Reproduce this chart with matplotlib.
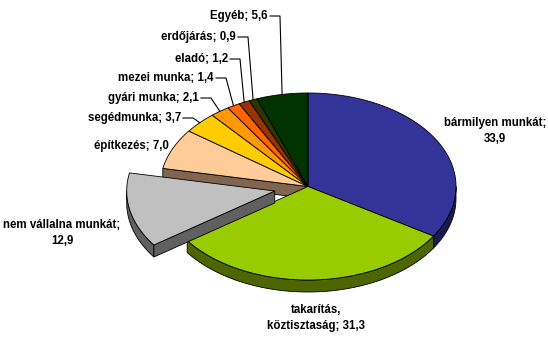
import numpy as np
import matplotlib
matplotlib.use("Agg")
import matplotlib.pyplot as plt
from matplotlib.patches import Polygon

# ---- data ----
labels = ["bármilyen munkát", "takarítás,\nköztisztaság", "nem vállalna munkát",
          "építkezés", "segédmunka", "gyári munka", "mezei munka", "eladó",
          "erdőjárás", "Egyéb"]
values = [33.9, 31.3, 12.9, 7.0, 3.7, 2.1, 1.4, 1.2, 0.9, 5.6]
top_colors = ["#333399", "#99CC00", "#C0C0C0", "#FFCC99", "#FFCC00", "#FF9900",
              "#FF6600", "#993300", "#333300", "#003300"]
side_colors = ["#1A1A4D", "#4D6600", "#606060", "#806650", "#806600", "#804D00",
               "#803300", "#4D1A00", "#1A1A00", "#001A00"]
explode = [0, 0, 0.23, 0, 0, 0, 0, 0, 0, 0]

W, H = 548, 342
fig = plt.figure(figsize=(W / 100, H / 100), dpi=100)
ax = fig.add_axes([0, 0, 1, 1])
ax.set_xlim(0, W)
ax.set_ylim(H, 0)
ax.axis("off")

cx, cy, rx, ry, depth = 308, 186.5, 148, 93.5, 12


def pt(theta_deg, r=1.0, off=(0, 0)):
    t = np.radians(theta_deg)
    return (cx + off[0] + rx * r * np.sin(t), cy + off[1] - ry * r * np.cos(t))


total = sum(values)
starts, ends = [], []
acc = 0.0
for v in values:
    starts.append(acc / total * 360)
    acc += v
    ends.append(acc / total * 360)

offsets = []
for i in range(len(values)):
    mid = np.radians((starts[i] + ends[i]) / 2)
    e = explode[i]
    offsets.append((rx * e * np.sin(mid), -ry * e * np.cos(mid)))

lw = 0.6


def draw_slice_walls(i):
    off = offsets[i]
    a0, a1 = starts[i], ends[i]
    # outer wall (front half: 90..270)
    lo, hi = max(a0, 90), min(a1, 270)
    if lo < hi:
        th = np.linspace(lo, hi, 60)
        top = [pt(t, 1, off) for t in th]
        bot = [(x, y + depth) for x, y in top[::-1]]
        ax.add_patch(Polygon(top + bot, closed=True, fc=side_colors[i],
                             ec="black", lw=lw, zorder=2 + i * 0.01))


def draw_radial_face(i, angle):
    off = offsets[i]
    c = (cx + off[0], cy + off[1])
    p = pt(angle, 1, off)
    poly = [c, p, (p[0], p[1] + depth), (c[0], c[1] + depth)]
    ax.add_patch(Polygon(poly, closed=True, fc=side_colors[i], ec="black",
                         lw=lw, zorder=3))


def draw_top(i, z):
    off = offsets[i]
    th = np.linspace(starts[i], ends[i], max(int(ends[i] - starts[i]) * 2, 4))
    poly = [(cx + off[0], cy + off[1])] + [pt(t, 1, off) for t in th]
    ax.add_patch(Polygon(poly, closed=True, fc=top_colors[i], ec="black",
                         lw=lw, zorder=z))


ex = [i for i in range(len(values)) if explode[i] > 0]
normal = [i for i in range(len(values)) if explode[i] == 0]

for i in normal:
    draw_slice_walls(i)
# exposed radial faces next to exploded slice
for j in ex:
    nxt = (j + 1) % len(values)
    if 180 < ends[j] < 360:
        draw_radial_face(nxt, ends[j])
for i in normal:
    draw_top(i, 4)
for j in ex:
    # walls of exploded slice
    off = offsets[j]
    if 0 < starts[j] < 180 or 180 < starts[j] < 360:
        pass
    draw_slice_walls(j)
    for p in ax.patches[-1:]:
        p.set_zorder(5)
    c = (cx + off[0], cy + off[1])
    p0 = pt(starts[j], 1, off)
    ax.add_patch(Polygon([c, p0, (p0[0], p0[1] + depth), (c[0], c[1] + depth)],
                         closed=True, fc=side_colors[j], ec="black", lw=lw, zorder=5))
    draw_top(j, 6)

# ---- labels ----
fs = 8.3
font = dict(fontsize=fs, fontweight="bold", family=["Liberation Sans", "DejaVu Sans"],
            color="black", zorder=10)


def lab(i):
    return f"{labels[i]}; {values[i]:.1f}".replace(".", ",")


# labels without leader lines
ax.text(495, 131, f"{labels[0]};\n{values[0]:.1f}".replace(".", ","),
        ha="center", va="center", linespacing=1.35, **font)
ax.text(316, 318, lab(1), ha="center", va="center", linespacing=1.35, **font)
ax.text(62, 233, f"{labels[2]};\n{values[2]:.1f}".replace(".", ","),
        ha="center", va="center", linespacing=1.35, **font)
ax.text(169, 146, lab(3), ha="right", va="center", **font)

# labels with leader lines (right end x, y)
leader_pos = {4: (181, 118), 5: (199, 98), 6: (214, 78), 7: (228, 59),
              8: (236, 37), 9: (268, 16)}
for i, (xe, ye) in leader_pos.items():
    ax.text(xe, ye, lab(i), ha="right", va="center", **font)
    mid = (starts[i] + ends[i]) / 2
    ax_, ay_ = pt(mid, 1.0)
    elbow = min(xe + 12, ax_)
    ax.plot([xe + 2, elbow, ax_], [ye, ye, ay_], color="black", lw=0.8, zorder=9)

fig.savefig("out.png", dpi=100)
